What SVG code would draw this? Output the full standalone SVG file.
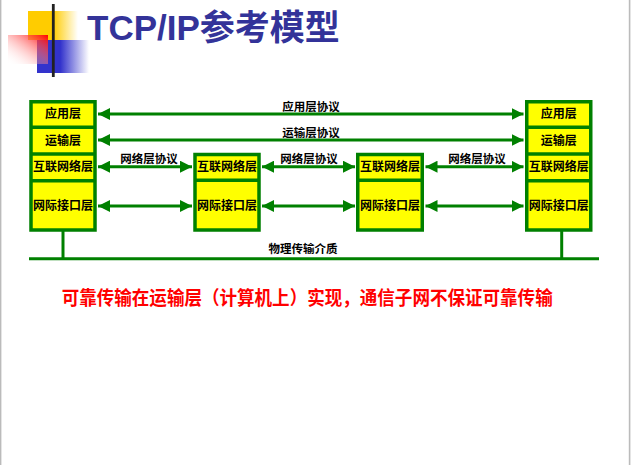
<svg xmlns="http://www.w3.org/2000/svg" width="631" height="465" viewBox="0 0 631 465">
<defs>
  <linearGradient id="gYellow" x1="0" y1="0" x2="1" y2="0">
    <stop offset="0" stop-color="#FFCC00"/>
    <stop offset="0.5" stop-color="#FFCC00"/>
    <stop offset="1" stop-color="#FFCC00" stop-opacity="0"/>
  </linearGradient>
  <linearGradient id="gBlue" x1="0" y1="0" x2="1" y2="0">
    <stop offset="0" stop-color="#3333CC"/>
    <stop offset="0.45" stop-color="#3333CC"/>
    <stop offset="1" stop-color="#3333CC" stop-opacity="0"/>
  </linearGradient>
  <linearGradient id="gRed" x1="1" y1="0" x2="0" y2="1">
    <stop offset="0" stop-color="#FF0000"/>
    <stop offset="1" stop-color="#FFFFFF" stop-opacity="0"/>
  </linearGradient>
  <linearGradient id="gLine" x1="0" y1="0" x2="1" y2="0">
    <stop offset="0" stop-color="#222222"/>
    <stop offset="0.4" stop-color="#444444"/>
    <stop offset="1" stop-color="#C8C8C8"/>
  </linearGradient>
  <marker id="ah" viewBox="0 0 12 12" refX="12" refY="6" markerWidth="12" markerHeight="12" markerUnits="userSpaceOnUse" orient="auto-start-reverse">
    <path d="M0,0 L12,6 L0,12 Z" fill="#008000"/>
  </marker>
</defs>
<style>
  .box { fill: #FFFF00; stroke: #008000; stroke-width: 3.5; }
  .div { stroke: #008000; stroke-width: 3.5; }
  .wire { stroke: #008000; stroke-width: 3; fill: none; }
  .arr { stroke: #008000; stroke-width: 3; fill: none; marker-start: url(#ah); marker-end: url(#ah); }
  .lbl { font-family: "Noto Sans CJK SC", sans-serif; font-weight: bold; font-size: 12px; fill: #000; text-anchor: middle; }
  .plbl { font-family: "Noto Sans CJK SC", sans-serif; font-weight: bold; font-size: 11.5px; fill: #000; text-anchor: middle; }
</style>
<rect width="631" height="465" fill="#FFFFFF"/>
<line x1="0.7" y1="0" x2="0.7" y2="465" stroke="#BBBBBB" stroke-width="1.4"/>
<line x1="629.6" y1="0" x2="629.6" y2="465" stroke="#BBBBBB" stroke-width="1.6"/>

<g id="title-decoration">
  <rect x="28" y="11" width="50" height="29" fill="url(#gYellow)"/>
  <rect x="37" y="40" width="52" height="33" fill="url(#gBlue)"/>
  <rect x="8" y="35" width="40" height="29" fill="url(#gRed)"/>
  <line x1="30" y1="59.3" x2="631" y2="59.3" stroke="url(#gLine)" stroke-width="3"/>
  <line x1="53.3" y1="4" x2="53.3" y2="77" stroke="#222222" stroke-width="2.8"/>
</g>
<text id="title" x="87" y="40" font-family="Liberation Sans, Noto Sans CJK SC, sans-serif" font-weight="bold" font-size="35" fill="#333399">TCP/IP参考模型</text>

<g id="connectors">
  <line class="wire" x1="63" y1="231" x2="63" y2="258.7"/>
  <line class="wire" x1="561.7" y1="231" x2="561.7" y2="258.7"/>
  <line class="wire" x1="29" y1="258.7" x2="599" y2="258.7"/>
  <line class="arr" x1="98" y1="114" x2="523.5" y2="114"/>
  <line class="arr" x1="98" y1="140" x2="523.5" y2="140"/>
  <line class="arr" x1="98" y1="166.7" x2="192" y2="166.7"/>
  <line class="arr" x1="98" y1="206" x2="192" y2="206"/>
  <line class="arr" x1="262" y1="166.7" x2="355" y2="166.7"/>
  <line class="arr" x1="262" y1="206" x2="355" y2="206"/>
  <line class="arr" x1="425.5" y1="166.7" x2="523.5" y2="166.7"/>
  <line class="arr" x1="425.5" y1="206" x2="523.5" y2="206"/>
  <text class="plbl" x="311" y="111">应用层协议</text>
  <text class="plbl" x="311" y="137">运输层协议</text>
  <text class="plbl" x="149" y="163">网络层协议</text>
  <text class="plbl" x="309" y="163">网络层协议</text>
  <text class="plbl" x="477" y="163">网络层协议</text>
  <text class="plbl" x="303" y="253.3" font-size="11.7">物理传输介质</text>
</g>

<g id="host-left">
  <rect class="box" x="31" y="101.75" width="64" height="128.25"/>
  <line class="div" x1="31" y1="127.3" x2="95" y2="127.3"/>
  <line class="div" x1="31" y1="154" x2="95" y2="154"/>
  <line class="div" x1="31" y1="180.7" x2="95" y2="180.7"/>
  <text class="lbl" x="63" y="118.3">应用层</text>
  <text class="lbl" x="63" y="144.5">运输层</text>
  <text class="lbl" x="63" y="171">互联网络层</text>
  <text class="lbl" x="63" y="210.3">网际接口层</text>
</g>

<g id="router-1">
  <rect class="box" x="195" y="154.5" width="64" height="75.5"/>
  <line class="div" x1="195" y1="180.3" x2="259" y2="180.3"/>
  <text class="lbl" x="227" y="171">互联网络层</text>
  <text class="lbl" x="227" y="210.3">网际接口层</text>
</g>

<g id="router-2">
  <rect class="box" x="357.75" y="154.5" width="64.5" height="75.5"/>
  <line class="div" x1="357.75" y1="180.3" x2="422.25" y2="180.3"/>
  <text class="lbl" x="390" y="171">互联网络层</text>
  <text class="lbl" x="390" y="210.3">网际接口层</text>
</g>

<g id="host-right">
  <rect class="box" x="526.75" y="101.75" width="64" height="128.25"/>
  <line class="div" x1="526.75" y1="127.3" x2="590.75" y2="127.3"/>
  <line class="div" x1="526.75" y1="154" x2="590.75" y2="154"/>
  <line class="div" x1="526.75" y1="180.7" x2="590.75" y2="180.7"/>
  <text class="lbl" x="558.7" y="118.3">应用层</text>
  <text class="lbl" x="558.7" y="144.5">运输层</text>
  <text class="lbl" x="558.7" y="171">互联网络层</text>
  <text class="lbl" x="558.7" y="210.3">网际接口层</text>
</g>

<text id="note" x="61.7" y="304.5" textLength="491" lengthAdjust="spacingAndGlyphs" font-family="Noto Sans CJK SC, sans-serif" font-weight="bold" font-size="18.9" fill="#FF0000">可靠传输在运输层（计算机上）实现，通信子网不保证可靠传输</text>
</svg>
